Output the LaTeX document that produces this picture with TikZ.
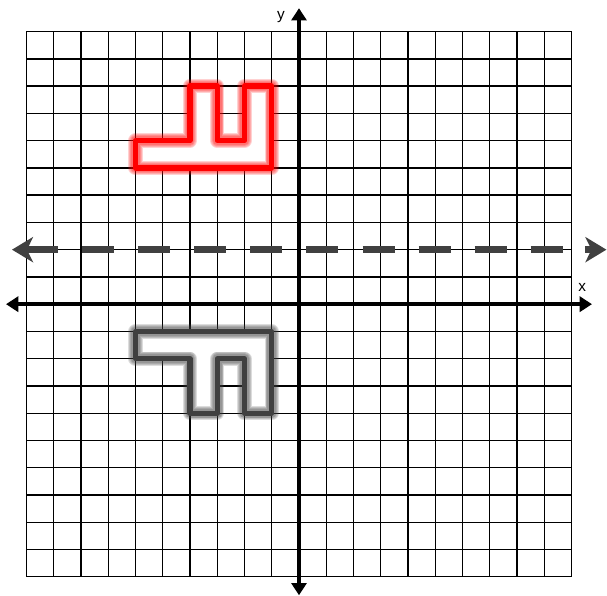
\documentclass[tikz,border=0pt]{standalone}
\usepackage{fontspec}
\setmainfont{Liberation Sans}
\usetikzlibrary{arrows.meta}
\definecolor{darkline}{HTML}{404040}
\begin{document}
\begin{tikzpicture}[
    gridline/.style={line width=1.4pt,black},
    axis/.style={line width=4pt,{Triangle[length=0.45cm,width=0.55cm]}-{Triangle[length=0.45cm,width=0.55cm]}},
    mirror/.style={line width=7pt,darkline},
    mirrortip/.style={mirror,-{Stealth[length=0.77cm,width=0.92cm,inset=0.22cm]}},
    axislabel/.style={font=\fontsize{16}{18}\selectfont,inner sep=0pt}
  ]
    \useasboundingbox (-10.97,-10.68) rectangle (11.30,11.16);
    %% grid
    \draw[gridline] (-10,-10) grid (10,10);
    %% axes
    \draw[axis] (-10.75,0) -- (10.75,0);
    \draw[axis] (0,-10.68) -- (0,10.86);
    \node[axislabel] (xlabel) at (10.39,0.61) {x};
    \node[axislabel] (ylabel) at (-0.66,10.55) {y};
    %% line of reflection y = 2
    \draw[mirror,dash pattern=on 1.174cm off 0.881cm] (-10,2) -- (10.4,2);
    \draw[mirrortip] (-9.9,2) -- (-10.53,2);
    \draw[mirrortip] (10.5,2) -- (11.28,2);
    %% original figure (red glow)
    \fill[white] (-6,5) -- (-1,5) -- (-1,8) -- (-2,8) -- (-2,6) -- (-3,6) -- (-3,8) -- (-4,8) -- (-4,6) -- (-6,6) -- cycle;
    \foreach \w in {15,13,11,9}
        \draw[red,opacity=0.18,line width=\w pt,line join=round] (-6,5) -- (-1,5) -- (-1,8) -- (-2,8) -- (-2,6) -- (-3,6) -- (-3,8) -- (-4,8) -- (-4,6) -- (-6,6) -- cycle;
    \draw[red,line width=5.5pt,line join=round] (-6,5) -- (-1,5) -- (-1,8) -- (-2,8) -- (-2,6) -- (-3,6) -- (-3,8) -- (-4,8) -- (-4,6) -- (-6,6) -- cycle;
    %% image (gray glow)
    \fill[white] (-6,-1) -- (-1,-1) -- (-1,-4) -- (-2,-4) -- (-2,-2) -- (-3,-2) -- (-3,-4) -- (-4,-4) -- (-4,-2) -- (-6,-2) -- cycle;
    \foreach \w in {15,13,11,9}
        \draw[darkline,opacity=0.18,line width=\w pt,line join=round] (-6,-1) -- (-1,-1) -- (-1,-4) -- (-2,-4) -- (-2,-2) -- (-3,-2) -- (-3,-4) -- (-4,-4) -- (-4,-2) -- (-6,-2) -- cycle;
    \draw[darkline,line width=5.5pt,line join=round] (-6,-1) -- (-1,-1) -- (-1,-4) -- (-2,-4) -- (-2,-2) -- (-3,-2) -- (-3,-4) -- (-4,-4) -- (-4,-2) -- (-6,-2) -- cycle;
\end{tikzpicture}
\end{document}
